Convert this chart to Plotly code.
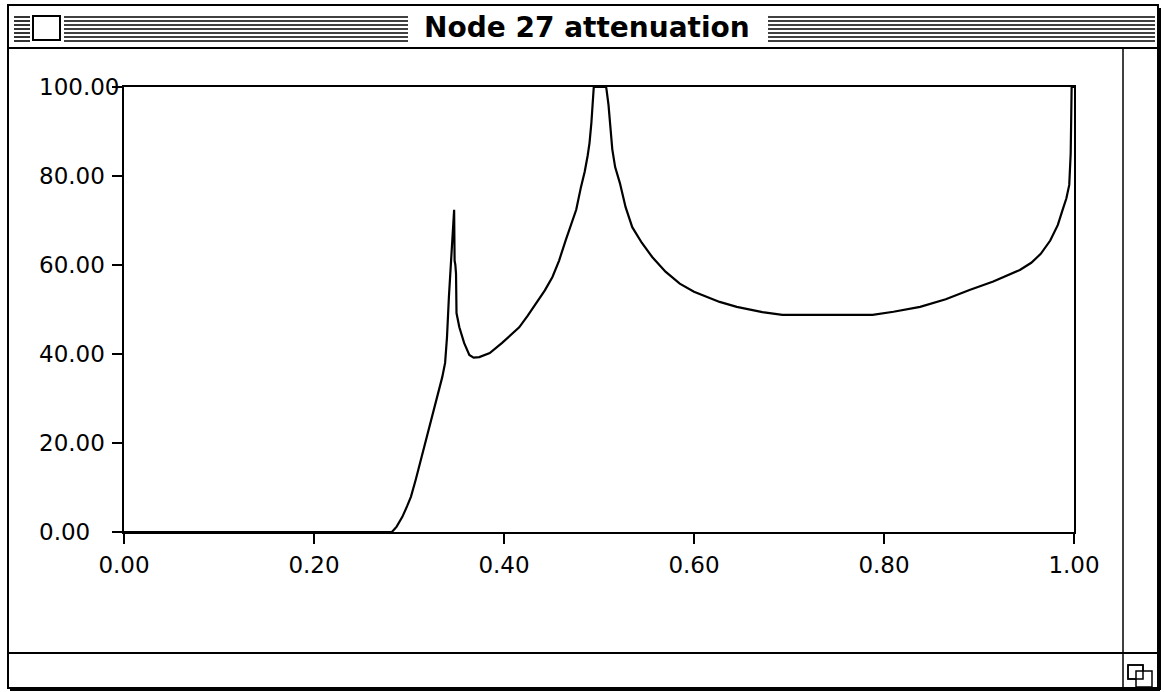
import plotly.graph_objects as go

# ---------------- data ----------------
freq = [0.0, 0.10, 0.20, 0.282, 0.287, 0.293, 0.298, 0.302, 0.307, 0.314,
        0.321, 0.328, 0.335, 0.338, 0.340, 0.342, 0.344, 0.346, 0.3475, 0.348,
        0.3488, 0.3495, 0.350, 0.353, 0.358, 0.3635, 0.368, 0.374, 0.385, 0.398,
        0.407, 0.416, 0.425, 0.434, 0.443, 0.451, 0.458, 0.465, 0.470, 0.476,
        0.481, 0.485, 0.488, 0.490, 0.492, 0.493, 0.4945, 0.500, 0.5075, 0.508,
        0.510, 0.512, 0.514, 0.517, 0.522, 0.528, 0.535, 0.545, 0.556, 0.570,
        0.585, 0.600, 0.615, 0.627, 0.645, 0.660, 0.672, 0.693, 0.740, 0.788,
        0.810, 0.838, 0.865, 0.890, 0.915, 0.943, 0.955, 0.965, 0.975, 0.983,
        0.988, 0.992, 0.995, 0.9965, 0.997, 0.9975, 1.0]
atten = [0.0, 0.0, 0.0, 0.0, 1.2, 3.4, 5.8, 7.9, 11.7, 17.5,
         23.2, 29.0, 34.8, 38.0, 43.8, 52.8, 60.4, 65.0, 72.4, 61.0,
         60.0, 58.0, 49.2, 46.0, 42.5, 39.8, 39.2, 39.3, 40.2, 42.5,
         44.2, 46.0, 48.6, 51.5, 54.3, 57.3, 61.0, 65.6, 68.5, 72.4,
         77.5, 81.0, 84.5, 87.4, 92.0, 95.5, 100.0, 100.0, 100.0, 99.3,
         96.0, 91.0, 86.0, 82.0, 78.4, 73.0, 68.5, 65.0, 61.8, 58.5,
         55.8, 54.0, 52.8, 51.7, 50.6, 49.9, 49.4, 48.8, 48.8, 48.8,
         49.5, 50.6, 52.3, 54.4, 56.3, 58.9, 60.5, 62.5, 65.5, 69.0,
         72.4, 75.0, 78.0, 85.0, 92.0, 100.0, 100.0]

x_ticks = [0.0, 0.2, 0.4, 0.6, 0.8, 1.0]
x_tick_labels = ["0.00", "0.20", "0.40", "0.60", "0.80", "1.00"]
y_ticks = [0, 20, 40, 60, 80, 100]
y_tick_labels = ["0.00", "20.00", "40.00", "60.00", "80.00", "100.00"]
title_text = "Node 27 attenuation"

# ---------------- geometry (pixels) ----------------
W, H = 1164, 692
PL, PR, PT, PB = 124, 1074, 87, 532   # plot area in pixels


def px(x):
    return (x - PL) / (PR - PL)


def py(y):
    return (PB - y) / (PB - PT)


shapes = []


def line(x0, y0, x1, y1, w=2):
    shapes.append(dict(type="line", xref="paper", yref="paper",
                       x0=px(x0), y0=py(y0), x1=px(x1), y1=py(y1),
                       line=dict(color="black", width=w), layer="above"))


def rect(x0, y0, x1, y1, w=2, fill="rgba(0,0,0,0)"):
    shapes.append(dict(type="rect", xref="paper", yref="paper",
                       x0=px(x0), y0=py(y0), x1=px(x1), y1=py(y1),
                       line=dict(color="black", width=w), fillcolor=fill,
                       layer="above"))


# window outer frame + shadow
rect(8, 5, 1158, 688, w=2)
line(1160, 8, 1160, 690, w=2)
line(10, 690, 1160, 690, w=2)
# title bar bottom
line(8, 48, 1158, 48, w=2)
# scroll bar dividers
line(1123, 48, 1123, 688, w=1.5)
line(8, 653, 1158, 653, w=2)
# grow box icon
rect(1128, 665, 1143, 679, w=1.5, fill="white")
rect(1136, 671, 1152, 687, w=1.5, fill="white")
rect(1128, 665, 1143, 679, w=1.5)

# title bar stripes
stripe_ys = [17, 21, 25, 29, 33, 37, 41]
for sy in stripe_ys:
    line(14, sy, 30, sy, w=1.6)
    line(64, sy, 408, sy, w=1.6)
    line(768, sy, 1155, sy, w=1.6)
# close box
rect(33, 16, 60, 40, w=2, fill="white")

annotations = [dict(text="<b>" + title_text + "</b>", xref="paper", yref="paper",
                    x=px(587), y=py(28), xanchor="center", yanchor="middle",
                    showarrow=False,
                    font=dict(family="DejaVu Sans", size=28, color="black"))]
for v, lab in zip(y_ticks, y_tick_labels):
    annotations.append(dict(text=lab, xref="paper", yref="y", x=px(37), y=v,
                            xanchor="left", yanchor="middle", showarrow=False,
                            font=dict(family="DejaVu Sans", size=23, color="black")))

fig = go.Figure(go.Scatter(x=freq, y=atten, mode="lines",
                           line=dict(color="black", width=2.2), hoverinfo="skip",
                           cliponaxis=True))

fig.update_layout(
    width=W, height=H,
    margin=dict(l=PL, r=W - PR, t=PT, b=H - PB, pad=0),
    paper_bgcolor="white", plot_bgcolor="white",
    showlegend=False,
    shapes=shapes, annotations=annotations,
    font=dict(family="DejaVu Sans", size=23, color="black"),
)
fig.update_xaxes(range=[0, 1], tickvals=x_ticks, ticktext=x_tick_labels,
                 showgrid=False, zeroline=False, showline=True, linecolor="black",
                 linewidth=2, mirror=True, ticks="outside", ticklen=10,
                 tickwidth=2, tickcolor="black", ticklabelstandoff=1,
                 tickfont=dict(family="DejaVu Sans", size=23, color="black"))
fig.update_yaxes(range=[0, 100], tickvals=y_ticks, showticklabels=False,
                 showgrid=False, zeroline=False, showline=True, linecolor="black",
                 linewidth=2, mirror=True, ticks="outside", ticklen=10,
                 tickwidth=2, tickcolor="black")

fig.write_html(
    "out.html",
    config={"displayModeBar": False},
    post_script="document.body.style.margin='0';document.body.style.overflow='hidden';",
)
